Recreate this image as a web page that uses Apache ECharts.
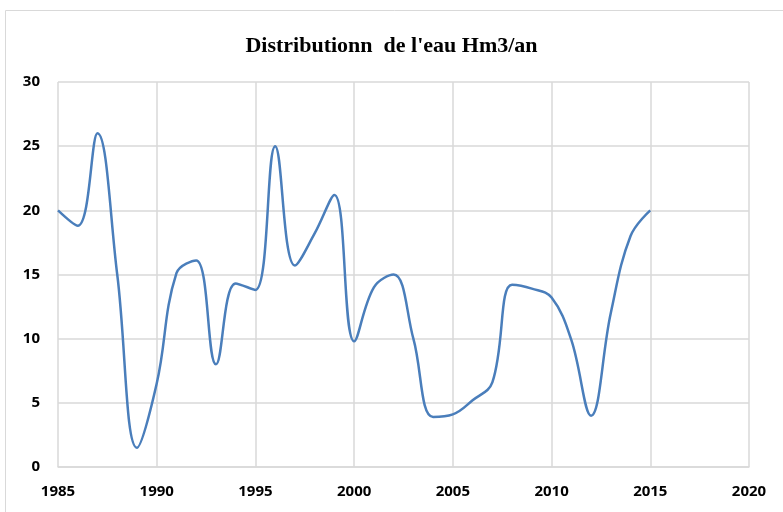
<!DOCTYPE html>
<html>
<head>
<meta charset="utf-8">
<title>Distributionn de l'eau Hm3/an</title>
<script src="https://cdn.jsdelivr.net/npm/echarts@6/dist/echarts.min.js"></script>
<style>
  html, body { margin: 0; padding: 0; background: #fff; }
  #chart { width: 783px; height: 512px; }
</style>
</head>
<body>
<div id="chart"></div>
<script>
// années et volumes (Hm3/an)
const years = [1985, 1986, 1987, 1988, 1989, 1990, 1991, 1992, 1993, 1994, 1995,
  1996, 1997, 1998, 1999, 2000, 2001, 2002, 2003, 2004, 2005,
  2006, 2007, 2008, 2009, 2010, 2011, 2012, 2013, 2014, 2015];
const volumes = [20, 18.8, 26, 15, 1.5, 6.5, 15.1, 16.1, 8, 14.3, 13.8,
  25, 15.7, 18.2, 21.2, 9.8, 14, 15, 10, 3.9, 4.1,
  5.2, 6.6, 14.2, 13.9, 13.2, 9.9, 4, 12, 18, 20];
const xMin = 1985, xMax = 2020, xStep = 5;
const yMin = 0, yMax = 30, yStep = 5;

const chart = echarts.init(document.getElementById('chart'));
const axisFont = { fontFamily: 'Open Sans', fontWeight: 'bold', fontSize: 15, color: '#000' };
chart.setOption({
  animation: false,
  title: {
    text: "Distributionn  de l'eau Hm3/an",
    left: 'center', top: 30,
    textStyle: { fontFamily: 'Liberation Serif', fontWeight: 'bold', fontSize: 22, color: '#000' }
  },
  graphic: [{
    type: 'rect', shape: { x: 5.5, y: 10.5, width: 790, height: 520 },
    style: { fill: 'none', stroke: '#d9d9d9', lineWidth: 1 }, silent: true
  }],
  grid: { left: 58, right: 34, top: 82, bottom: 45 },
  xAxis: {
    type: 'value', min: xMin, max: xMax, interval: xStep,
    axisLine: { show: true, lineStyle: { color: '#d9d9d9', width: 1.5 } },
    axisTick: { show: false },
    splitLine: { show: true, lineStyle: { color: '#d9d9d9', width: 1.5 } },
    axisLabel: Object.assign({ margin: 17, formatter: v => String(v) }, axisFont)
  },
  yAxis: {
    type: 'value', min: yMin, max: yMax, interval: yStep,
    axisLine: { show: false },
    axisTick: { show: false },
    splitLine: { show: true, lineStyle: { color: '#d9d9d9', width: 1.5 } },
    axisLabel: Object.assign({ margin: 18 }, axisFont)
  },
  series: [{
    type: 'line',
    data: years.map((y, i) => [y, volumes[i]]),
    smooth: 0.4,
    showSymbol: false,
    lineStyle: { color: '#4a7ebb', width: 2.5 },
    itemStyle: { color: '#4a7ebb' }
  }]
});
</script>
</body>
</html>
